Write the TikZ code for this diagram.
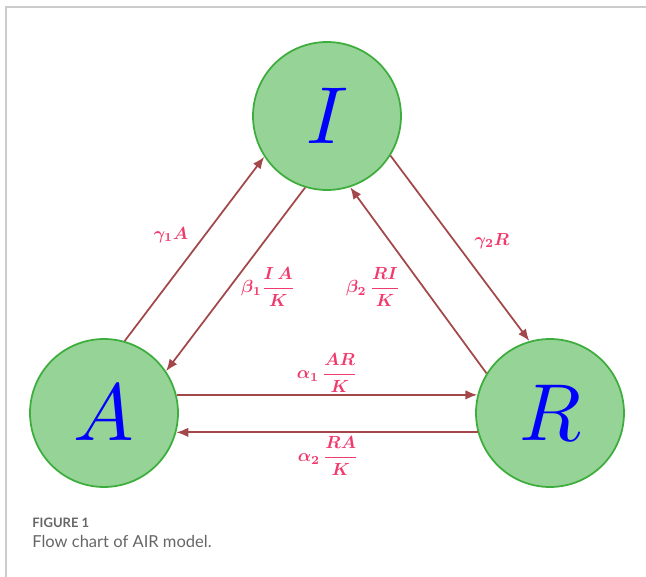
\documentclass[tikz,border=0pt]{standalone}
\usepackage{amsmath}
\usepackage{graphicx}
\usepackage{fontspec}
\newfontfamily\capfont{Lato}
\usetikzlibrary{arrows.meta}
\definecolor{cellfill}{HTML}{96D396}
\definecolor{celldraw}{HTML}{3DAE3D}
\definecolor{flowcol}{HTML}{A3484A}
\definecolor{ratecol}{HTML}{F03A6C}
\definecolor{framecol}{HTML}{CCCCCC}
\newcommand{\bigsym}[1]{\scalebox{4.6}{$#1$}}

\begin{document}
\begin{tikzpicture}[
  x=0.02cm, y=-0.02cm,
  comp/.style={circle, draw=celldraw, fill=cellfill, line width=1pt,
               minimum size=2.96cm, inner sep=0pt, text=blue},
  flow/.style={-{Latex[length=2.4mm,width=1.9mm]}, draw=flowcol, line width=1pt},
  rate/.style={text=ratecol, inner sep=1pt, font=\boldmath}
]
\useasboundingbox (0,0) rectangle (646,577);
\draw[framecol, line width=0.8pt] (6,577) -- (6,7) -- (646,7);

\node[comp] (I) at (327,116) {\bigsym{I}};
\node[comp] (A) at (104,413) {\bigsym{A}};
\node[comp] (R) at (550,413) {\bigsym{R}};

\draw[flow] (A.74) -- (I.213);
\draw[flow] (I.253) -- (A.34);
\draw[flow] (R.148) -- (I.288);
\draw[flow] (I.328) -- (R.106);
\draw[flow] (A.14) -- (R.166);
\draw[flow] (R.195) -- (A.-15);

\node[rate] (g1) at (171,235) {$\gamma_1 A$};
\node[rate] (b1) at (268,287) {$\beta_1\dfrac{I\,A}{K}$};
\node[rate] (b2) at (373,287) {$\beta_2\,\dfrac{RI}{K}$};
\node[rate] (g2) at (492,241) {$\gamma_2 R$};
\node[rate] (a1) at (327,373) {$\alpha_1\,\dfrac{AR}{K}$};
\node[rate] (a2) at (328,456) {$\alpha_2\,\dfrac{RA}{K}$};

\node[anchor=west, text=black!60, inner sep=0pt, font=\capfont\fontsize{7.4}{9}\selectfont\bfseries]
  (fig) at (32,523) {FIGURE 1};
\node[anchor=west, text=black!60, inner sep=0pt, font=\capfont\fontsize{9.4}{11}\selectfont]
  (cap) at (32,541) {Flow chart of AIR model.};
\end{tikzpicture}
\end{document}
